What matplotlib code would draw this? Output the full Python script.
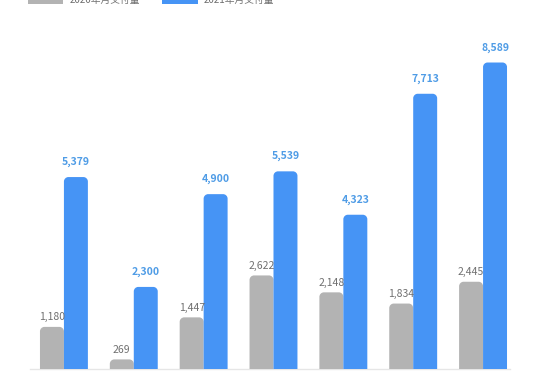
import matplotlib
matplotlib.use("Agg")
import matplotlib.pyplot as plt
from matplotlib.patches import Rectangle, PathPatch
from matplotlib.path import Path

plt.rcParams['font.family'] = ['Noto Sans CJK SC', 'DejaVu Sans']

categories = ["1", "2", "3", "4", "5", "6", "7"]
series_names = ["2020年月交付量", "2021年月交付量"]
values_2020 = [1180, 269, 1447, 2622, 2148, 1834, 2445]
values_2021 = [5379, 2300, 4900, 5539, 4323, 7713, 8589]

gray = "#b3b3b3"
blue = "#4694f5"
blue_txt = "#4f9ce6"
gray_txt = "#707070"

fig = plt.figure(figsize=(5.34, 3.76), dpi=100)
ax = fig.add_axes([30/534, 7/376, 480/534, 339/376])
xmin, xmax = -34/70, 6 + 27/70
ax.set_xlim(xmin, xmax)
ax.set_ylim(0, 9500)
ax.axis('off')

w = 0.343
off = w / 2
x = list(range(len(categories)))

px_x = 1/70.0          # data x per pixel
px_y = 9500/339.0      # data y per pixel
r = 4.5                # corner radius in px

def rbar(xc, h, color):
    bars = ax.bar(xc, h, width=w, color=color)
    b = bars[0]
    b.set_visible(False)
    x0, x1 = b.get_x(), b.get_x() + b.get_width()
    rx, ry = r * px_x, r * px_y
    k = 0.5523
    verts = [(x0, 0), (x0, h - ry),
             (x0, h - ry + k*ry), (x0 + rx - k*rx, h), (x0 + rx, h),
             (x1 - rx, h),
             (x1 - rx + k*rx, h), (x1, h - ry + k*ry), (x1, h - ry),
             (x1, 0), (x0, 0)]
    codes = [Path.MOVETO, Path.LINETO,
             Path.CURVE4, Path.CURVE4, Path.CURVE4,
             Path.LINETO,
             Path.CURVE4, Path.CURVE4, Path.CURVE4,
             Path.LINETO, Path.CLOSEPOLY]
    ax.add_patch(PathPatch(Path(verts, codes), facecolor=color, edgecolor='none'))

for i in x:
    rbar(i - off, values_2020[i], gray)
    rbar(i + off, values_2021[i], blue)
    ax.text(i - off, values_2020[i] + 130, f"{values_2020[i]:,}", ha='center', va='bottom',
            fontsize=7.5, color=gray_txt)
    ax.text(i + off, values_2021[i] + 280, f"{values_2021[i]:,}", ha='center', va='bottom',
            fontsize=7.5, color=blue_txt, fontweight='bold')

ax.plot([xmin, xmax], [0, 0], color="#e6e6e6", lw=1, clip_on=False, zorder=0)

# legend (partially cut off at top, as in the reference)
fig.patches.append(Rectangle((28/534, 1 - 4/376), 35/534, 10/376, transform=fig.transFigure,
                             facecolor=gray, edgecolor='none'))
fig.text(70/534, 1 - 0/376, series_names[0], fontsize=7, color=gray_txt, va='center', ha='left')
fig.patches.append(Rectangle((162/534, 1 - 4/376), 36/534, 10/376, transform=fig.transFigure,
                             facecolor=blue, edgecolor='none'))
fig.text(204/534, 1 - 0/376, series_names[1], fontsize=7, color=gray_txt, va='center', ha='left')

fig.savefig("out.png", dpi=100)
